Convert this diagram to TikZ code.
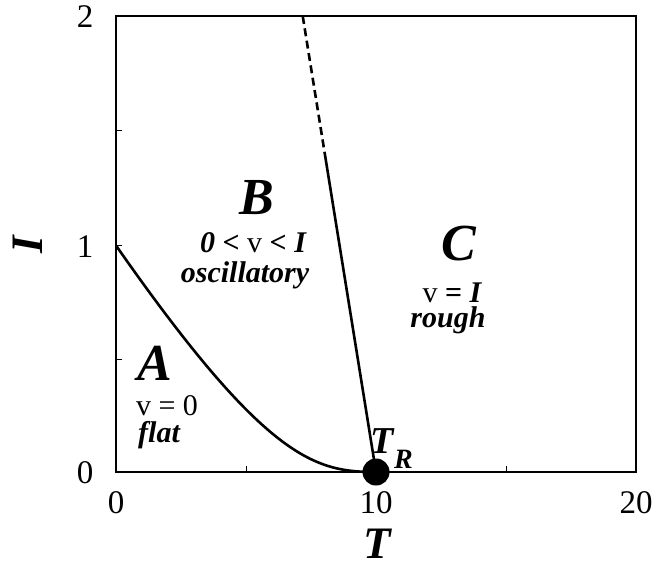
\documentclass[tikz,border=0pt]{standalone}
\usepackage{fontspec}
\setmainfont{Liberation Serif}
\begin{document}
\begin{tikzpicture}[x=1pt,y=-1pt,
  frame/.style={line width=2.8pt},
  curve/.style={line width=2.6pt},
  dashline/.style={line width=2.6pt, dash pattern=on 8pt off 4.5pt},
  tickmark/.style={line width=1pt},
  num/.style={font=\fontsize{33}{33}\selectfont, inner sep=0pt, anchor=base},
  big/.style={font=\fontsize{52}{52}\selectfont\bfseries\itshape, inner sep=0pt, anchor=base},
  sub/.style={font=\fontsize{30}{30}\selectfont, inner sep=0pt, anchor=base},
  axlab/.style={font=\fontsize{45}{45}\selectfont\bfseries\itshape, inner sep=0pt}
]
\useasboundingbox (0,0) rectangle (656,564);
% frame
\coordinate (tl) at (116,16);
\coordinate (br) at (636,472);
\draw[frame] (tl) rectangle (br);
% ticks
\foreach \yy/\nm in {131/a,246/b,359/c}{
  \coordinate (lt\nm) at (116,\yy);
  \coordinate (ltt\nm) at (122,\yy);
  \draw[tickmark] (lt\nm) -- (ltt\nm);
}
\foreach \xx/\nm in {246/a,376/b,506/c}{
  \coordinate (bt\nm) at (\xx,472);
  \coordinate (btt\nm) at (\xx,466);
  \draw[tickmark] (bt\nm) -- (btt\nm);
}
% critical point
\node[circle, fill=black, minimum size=27pt, inner sep=0pt] (tr) at (376,472) {};
% A/B boundary
\coordinate (i1) at (116.7,246.5);
\draw[curve] (i1) .. controls (266.7,461.2) and (316,472) .. (tr.center);
% B/C boundary
\coordinate (top) at (302.7,16);
\coordinate (mid) at (325,155);
\draw[dashline] (top) -- (mid);
\draw[curve] (mid) -- (tr.center);
% axis numbers
\node[num] (y2) at (85,28) {2};
\node[num] (y1) at (85,258) {1};
\node[num] (y0) at (85,483) {0};
\node[num] (x0) at (116,513) {0};
\node[num] (x10) at (376,513) {10};
\node[num] (x20) at (636,513) {20};
% axis labels
\node[axlab, rotate=90] (ylab) at (28,245) {I};
\node[axlab, anchor=base] (xlab) at (377,558) {T};
% region labels
\node[big] (A) at (155,380) {A};
\node[sub] (Aeq) at (167,415) {v = 0};
\node[sub, font=\fontsize{30}{30}\selectfont\bfseries\itshape] (Aname) at (159,442) {flat};
\node[big] (B) at (257,215) {B};
\node[sub] (Beq) at (253,252) {{\bfseries\itshape 0} {\bfseries <} v {\bfseries <} {\bfseries\itshape I}};
\node[sub, font=\fontsize{30}{30}\selectfont\bfseries\itshape] (Bname) at (245,283) {oscillatory};
\node[big] (C) at (459,260) {C};
\node[sub] (Ceq) at (452,302) {v {\bfseries =} {\bfseries\itshape I}};
\node[sub, font=\fontsize{30}{30}\selectfont\bfseries\itshape] (Cname) at (448,327) {rough};
% T_R
\node[inner sep=0pt, anchor=base west, font=\fontsize{38}{38}\selectfont\bfseries\itshape] (TR) at (370,453) {T};
\node[inner sep=0pt, anchor=base west, font=\fontsize{28}{28}\selectfont\bfseries\itshape] (TRs) at (394,468) {R};
\end{tikzpicture}
\end{document}
